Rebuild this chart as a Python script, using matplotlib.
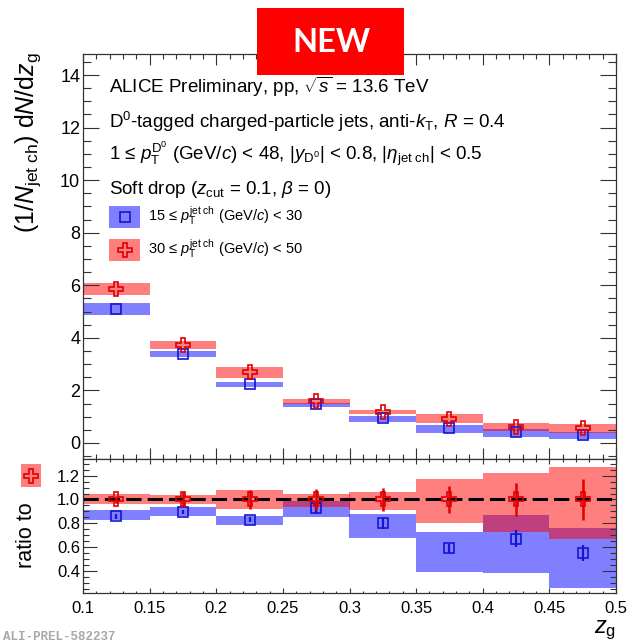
import matplotlib
matplotlib.use('Agg')
import matplotlib.pyplot as plt
import numpy as np
from matplotlib.patches import Rectangle
from matplotlib.lines import Line2D
from matplotlib.ticker import MultipleLocator

plt.rcParams['font.family'] = ['Liberation Sans', 'DejaVu Sans']
plt.rcParams['mathtext.fontset'] = 'custom'
plt.rcParams['mathtext.rm'] = 'Liberation Sans'
plt.rcParams['mathtext.it'] = 'Liberation Sans:italic'
plt.rcParams['mathtext.bf'] = 'Liberation Sans:bold'

# z_g binning
zg_edges = [0.10, 0.15, 0.20, 0.25, 0.30, 0.35, 0.40, 0.45, 0.50]

# 15 <= pT jet < 30 GeV/c
low_val = [5.08, 3.37, 2.24, 1.47, 0.94, 0.56, 0.41, 0.30]
low_sys_lo = [4.87, 3.26, 2.12, 1.37, 0.81, 0.37, 0.24, 0.14]
low_sys_hi = [5.31, 3.50, 2.33, 1.53, 1.04, 0.68, 0.52, 0.43]

# 30 <= pT jet < 50 GeV/c
high_val = [5.85, 3.73, 2.69, 1.58, 1.18, 0.93, 0.60, 0.57]
high_sys_lo = [5.63, 3.56, 2.48, 1.48, 1.09, 0.75, 0.46, 0.39]
high_sys_hi = [6.10, 3.88, 2.88, 1.67, 1.25, 1.09, 0.75, 0.72]

# ratios to the 30-50 GeV/c selection
ratio_low = [0.86, 0.895, 0.83, 0.93, 0.80, 0.59, 0.67, 0.55]
ratio_low_stat = [0.02, 0.02, 0.02, 0.045, 0.045, 0.04, 0.07, 0.07]
ratio_low_sys_lo = [0.83, 0.86, 0.79, 0.85, 0.68, 0.39, 0.38, 0.255]
ratio_low_sys_hi = [0.91, 0.94, 0.86, 0.99, 0.88, 0.73, 0.87, 0.76]

ratio_high = [1.0, 1.0, 1.0, 1.0, 1.0, 1.0, 1.0, 1.0]
ratio_high_stat = [0.03, 0.06, 0.077, 0.09, 0.097, 0.11, 0.135, 0.175]
ratio_high_sys_lo = [0.96, 0.96, 0.917, 0.94, 0.909, 0.80, 0.73, 0.67]
ratio_high_sys_hi = [1.044, 1.04, 1.078, 1.05, 1.063, 1.17, 1.22, 1.27]

edges = np.array(zg_edges)
centers = 0.5*(edges[1:] + edges[:-1])
widths = np.diff(edges)

W, H = 627, 642
def fx(px): return px/W
def fy(py): return 1 - py/H

c_blue = '#1414d2'
c_red = '#e00000'
band_blue = (0, 0, 1, 0.5)
band_red = (1, 0, 0, 0.5)

fig = plt.figure(figsize=(W/100, H/100), dpi=100)
ax = fig.add_axes([fx(83), fy(459), fx(616)-fx(83), fy(54)-fy(459)])
axr = fig.add_axes([fx(83), fy(593), fx(616)-fx(83), fy(459)-fy(593)])

def band(a, lo, hi, color):
    lo = np.array(lo); hi = np.array(hi)
    a.bar(centers, hi-lo, bottom=lo, width=widths, color=color, lw=0, zorder=1)

# spectra
band(ax, low_sys_lo, low_sys_hi, band_blue)
band(ax, high_sys_lo, high_sys_hi, band_red)
ax.plot(centers, low_val, ls='none', marker='s', ms=7, mfc='none', mec=c_blue, mew=1.2, zorder=3)
ax.plot(centers, high_val, ls='none', marker='P', ms=10.5, mfc='none', mec=c_red, mew=1.2, zorder=4)

ax.set_xlim(0.1, 0.5)
ax.set_ylim(-0.61, 14.8)
ax.xaxis.set_major_locator(MultipleLocator(0.05))
ax.xaxis.set_minor_locator(MultipleLocator(0.01))
ax.set_xticklabels([])
ax.yaxis.set_major_locator(MultipleLocator(2))
ax.yaxis.set_minor_locator(MultipleLocator(0.5))
ax.tick_params(which='both', direction='in', top=True, right=True, width=0.8, color='#333333')
ax.tick_params(axis='y', which='major', length=11.5, labelsize=13, pad=2)
ax.tick_params(axis='y', which='minor', length=5.5)
ax.tick_params(axis='x', which='major', length=8)
ax.tick_params(axis='x', which='minor', length=3.5)

# ratio panel
band(axr, ratio_low_sys_lo, ratio_low_sys_hi, band_blue)
band(axr, ratio_high_sys_lo, ratio_high_sys_hi, band_red)
axr.axhline(1.0, color='k', lw=2.2, ls=(0, (5, 2)), zorder=2)
axr.errorbar(centers, ratio_low, yerr=ratio_low_stat, ls='none', marker='s', ms=7, mfc='none',
             mec=c_blue, mew=1.2, ecolor=c_blue, elinewidth=1.6, capsize=0, zorder=3)
axr.errorbar(centers, ratio_high, yerr=ratio_high_stat, ls='none', marker='P', ms=10.5, mfc='none',
             mec=c_red, mew=1.2, ecolor=c_red, elinewidth=1.8, capsize=0, zorder=4)

axr.set_xlim(0.1, 0.5)
axr.set_ylim(0.215, 1.34)
axr.xaxis.set_minor_locator(MultipleLocator(0.01))
axr.yaxis.set_minor_locator(MultipleLocator(0.05))
axr.set_xticks(list(edges))
axr.set_xticklabels(['0.1', '0.15', '0.2', '0.25', '0.3', '0.35', '0.4', '0.45', '0.5'])
axr.set_yticks([0.4, 0.6, 0.8, 1.0, 1.2])
axr.set_yticklabels(['0.4', '0.6', '0.8', '1.0', '1.2'])
axr.tick_params(which='both', direction='in', top=True, right=True, width=0.8, color='#333333')
axr.tick_params(axis='y', which='major', length=10, labelsize=12, pad=2)
axr.tick_params(axis='y', which='minor', length=4.5)
axr.tick_params(axis='x', which='major', length=3.5, labelsize=12, pad=6)
axr.tick_params(axis='x', which='minor', length=1.8)

for a in (ax, axr):
    for s in a.spines.values():
        s.set_linewidth(0.9)
        s.set_color('#333333')

# axis titles
fig.text(fx(28), fy(52), r'(1/$N_{\mathrm{jet\ ch}}$) d$N$/d$z_{\mathrm{g}}$', rotation=90,
         ha='center', va='top', fontsize=18)
fig.text(fx(27), fy(502), 'ratio to', rotation=90, ha='center', va='top', fontsize=15.5)
fig.add_artist(Rectangle((fx(21), fy(487)), fx(41)-fx(21), fy(464)-fy(487),
                         transform=fig.transFigure, color=band_red, lw=0))
fig.add_artist(Line2D([fx(31)], [fy(475.5)], transform=fig.transFigure, marker='P', ms=10.5,
                      mfc='none', mec=c_red, mew=1.2))
fig.text(fx(616), fy(633), r'$z_{\mathrm{g}}$', ha='right', va='baseline', fontsize=17)

# annotations
lines = [
    (93, r'ALICE Preliminary, pp, $\sqrt{s}$ = 13.6 TeV'),
    (128, r'D$^{0}$-tagged charged-particle jets, anti-$k_{\mathrm{T}}$, $R$ = 0.4'),
    (160, r'1 ≤ $p_{\mathrm{T}}^{\mathrm{D^{0}}}$ (GeV/$c$) < 48, |$y_{\mathrm{D^{0}}}$| < 0.8, |$\eta_{\mathrm{jet\ ch}}$| < 0.5'),
    (194, r'Soft drop ($z_{\mathrm{cut}}$ = 0.1, $\beta$ = 0)'),
]
for py, s in lines:
    fig.text(fx(109), fy(py), s, ha='left', va='baseline', fontsize=13.5)

legend_rows = [
    (217, band_blue, 's', 7, c_blue, r'15 ≤ $p_{\mathrm{T}}^{\mathrm{jet\ ch}}$ (GeV/$c$) < 30'),
    (250, band_red, 'P', 10.5, c_red, r'30 ≤ $p_{\mathrm{T}}^{\mathrm{jet\ ch}}$ (GeV/$c$) < 50'),
]
for py, bc, mk, ms, mc, s in legend_rows:
    fig.add_artist(Rectangle((fx(109), fy(py+11)), fx(140)-fx(109), fy(py-11)-fy(py+11),
                             transform=fig.transFigure, color=bc, lw=0))
    fig.add_artist(Line2D([fx(124.5)], [fy(py)], transform=fig.transFigure, marker=mk, ms=ms,
                          mfc='none', mec=mc, mew=1.2))
    fig.text(fx(148), fy(py+4.5), s, ha='left', va='baseline', fontsize=10.5)

fig.text(fx(3), fy(637), 'ALI-PREL-582237', ha='left', va='center', fontsize=9,
         family='Liberation Mono', weight='bold', color='#a8a8a8')

# banner
fig.add_artist(Rectangle((fx(257), fy(75)), fx(404)-fx(257), fy(8)-fy(75),
                         transform=fig.transFigure, color='#ff0000', lw=0, zorder=10))
fig.text(fx(331), fy(43), 'NEW', ha='center', va='center', fontsize=23.5, weight='bold',
         family='Lato', color='white', zorder=11)

fig.savefig('out.png', dpi=100)
